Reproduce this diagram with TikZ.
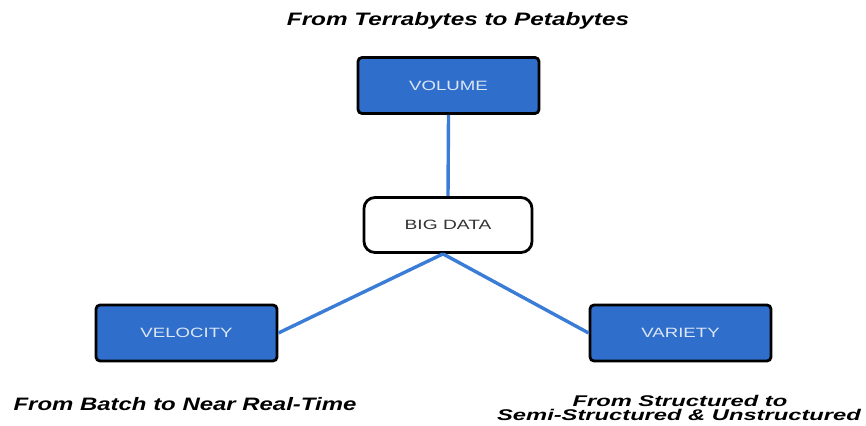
\documentclass[tikz,border=0pt]{standalone}
\usepackage{fontspec}
\setmainfont{Liberation Sans}
\definecolor{boxblue}{HTML}{2F6FCB}
\definecolor{lineblue}{HTML}{3A7CD6}
\definecolor{labelc}{HTML}{DCE6F5}
\newcommand{\widetext}[2][1.38]{\scalebox{#1}[1]{#2}}
\begin{document}
\begin{tikzpicture}[x=1pt,y=-1pt,
  bluebox/.style={draw=black, line width=2.8pt, fill=boxblue, rounded corners=4pt,
    minimum width=181pt, minimum height=56pt, inner sep=0pt, text=labelc, font=\fontsize{13.5}{15}\selectfont},
  centerbox/.style={draw=black, line width=2.8pt, fill=white, rounded corners=11pt,
    minimum width=168pt, minimum height=55pt, inner sep=0pt, text=black!80, font=\fontsize{13.5}{15}\selectfont},
  conn/.style={draw=lineblue, line width=3.4pt},
  caption/.style={font=\fontsize{18}{20}\selectfont\bfseries\itshape, anchor=base, inner sep=0pt},
  smallcaption/.style={font=\fontsize{15.5}{17}\selectfont\bfseries\itshape, anchor=base, inner sep=0pt}]
\useasboundingbox (0,0) rectangle (866,425);
\node[bluebox] (volume) at (448.5,85.5) {\widetext{VOLUME}};
\node[centerbox] (big) at (448,225) {\widetext[1.42]{BIG DATA}};
\node[bluebox] (velocity) at (186.5,333) {\widetext{VELOCITY}};
\node[bluebox] (variety) at (680.5,333) {\widetext{VARIETY}};
\draw[conn] (volume.south) -- (big.north);
\draw[conn] ([xshift=-5pt]big.south) -- (velocity.east);
\draw[conn] ([xshift=-5pt]big.south) -- (variety.west);
\node[caption] (t1) at (458,26) {\widetext[1.35]{From Terrabytes to Petabytes}};
\node[caption] (t2) at (185,410) {\widetext[1.33]{From Batch to Near Real-Time}};
\node[smallcaption] (t3a) at (680,406) {\widetext[1.53]{From Structured to}};
\node[smallcaption] (t3b) at (679,420) {\widetext[1.53]{Semi-Structured \& Unstructured}};
\end{tikzpicture}
\end{document}
